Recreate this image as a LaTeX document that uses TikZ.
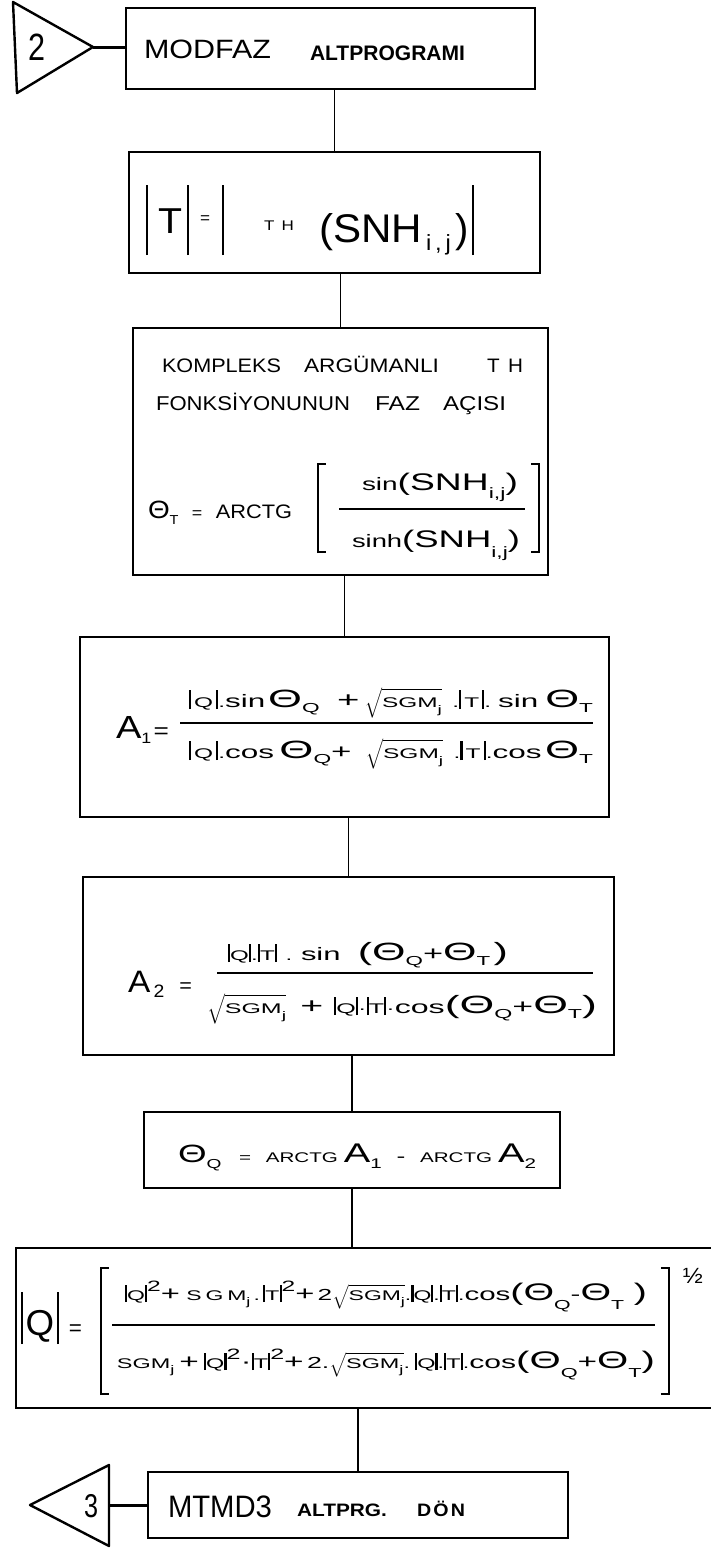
\documentclass[tikz,border=0pt]{standalone}
\usepackage{fontspec}
\setmainfont{Liberation Sans}
\usepackage{graphicx}
\makeatletter
\newcommand\lsp[2]{\def\lsp@k{#1}\let\lsp@sep\relax\@tfor\lsp@t:=#2\do{\lsp@sep\lsp@t\def\lsp@sep{\kern\lsp@k}}}
\makeatother
\newcommand\fs[1]{\fontsize{#1}{#1}\selectfont}
\newcommand\subx[3]{\raisebox{-#1}{\fs{#2}#3}}
\newcommand\at[3]{\rlap{\hspace*{#1}\raisebox{#2}{#3}}}
\newcommand\wfit[2]{\resizebox{#1}{\height}{#2}}
\newcommand\vb[1]{\rule[-2pt]{1.3pt}{#1}}
\newcommand\sm[1]{{\fs{14}#1}}
\newcommand\op[1]{{\fs{18}#1}}
\newcommand\rad[2]{{\fs{14}$\sqrt{\hbox{\fs{14}\rule[-6pt]{0pt}{19pt}#1\subx{5pt}{11}{#2}}}$}}
\newcommand\radb[2]{{\fs{16}$\sqrt{\hbox{\fs{14}\rule[-9pt]{0pt}{24pt}#1\subx{6pt}{11}{#2}}}$}}
\newcommand\Th[1]{{\fs{25}Θ}\subx{5pt}{13}{#1}}
\newcommand\Thd[1]{{\fs{24}Θ}\subx{9pt}{13}{#1}}
% square brackets from rules: #1 arm length, #2 height
\newcommand\lbr[2]{\rlap{\rule{1.7pt}{#2}}\rlap{\rule{#1}{1.7pt}}\rlap{\raisebox{\dimexpr#2-1.7pt\relax}{\rule{#1}{1.7pt}}}\hspace*{#1}}
\newcommand\rbr[2]{\rlap{\hspace*{\dimexpr#1-1.7pt\relax}\rule{1.7pt}{#2}}\rlap{\rule{#1}{1.7pt}}\rlap{\raisebox{\dimexpr#2-1.7pt\relax}{\rule{#1}{1.7pt}}}\hspace*{#1}}
\tikzset{
  box/.style={draw, line width=2.6pt, inner sep=0pt},
  conn/.style={line width=1.8pt},
  thickconn/.style={line width=3pt},
  tri/.style={draw, line width=2.4pt, line join=round},
  txt/.style={anchor=base west, inner sep=0pt, outer sep=0pt}
}
\begin{document}
\begin{tikzpicture}[x=1pt,y=-1pt]
\fill[white] (0,0) rectangle (711,1551);
\useasboundingbox (0,0) rectangle (711,1551);

% boxes
\node[box, minimum width=409pt, minimum height=81pt] (b1) at (330.5,48.5) {};
\node[box, minimum width=411pt, minimum height=121pt] (b2) at (334.5,212.5) {};
\node[box, minimum width=415pt, minimum height=247pt] (b3) at (340.5,451.5) {};
\node[box, minimum width=529pt, minimum height=180pt] (b4) at (344.5,727) {};
\node[box, minimum width=531pt, minimum height=178pt] (b5) at (348.5,966) {};
\node[box, minimum width=416pt, minimum height=76pt] (b6) at (352,1150) {};
\node[box, minimum width=704pt, minimum height=160pt] (b7) at (368,1328) {};
\node[box, minimum width=420pt, minimum height=66pt] (b8) at (358,1505) {};

% off-page connectors
\draw[tri] (13,2) -- (93,47) -- (17,93) -- cycle;
\coordinate (t2a) at (93,47);
\node[txt] (n2) at (28,60) {\wfit{17pt}{\fs{38}2}};
\draw[tri] (109,1465) -- (30,1505) -- (109,1546) -- cycle;
\coordinate (t3b) at (109,1505);
\node[txt] (n3) at (84,1517) {\wfit{14pt}{\fs{33}3}};

% connectors
\draw[thickconn] (t2a) -- (t2a -| b1.west);
\draw[conn] (b2.north |- b1.south) -- (b2.north);
\draw[conn] (b3.north |- b2.south) -- (b3.north);
\draw[conn] (b4.north |- b3.south) -- (b4.north);
\draw[conn] (b5.north |- b4.south) -- (b5.north);
\draw[conn] (b6.north |- b5.south) -- (b6.north);
\draw[conn] (b6.south) -- (b6.south |- b7.north);
\draw[conn] (b8.north |- b7.south) -- (b8.north);
\draw[thickconn] (t3b) -- (b8.west);

% box 1
\node[txt] (t1a) at (144,58) {\wfit{127pt}{\fs{26.5}MODFAZ}};
\node[txt] (t1b) at (310,60) {\wfit{155pt}{\fs{21}\bfseries ALTPROGRAMI}};

% box 2
\node[txt] (t2) at (146,242) {%
  \at{0pt}{-13pt}{\rule{1.8pt}{70pt}}%
  \at{12pt}{9pt}{\wfit{24pt}{\fs{36}T}}%
  \at{41pt}{-13pt}{\rule{1.8pt}{70pt}}%
  \at{54pt}{19pt}{\wfit{10pt}{\fs{16}=}}%
  \at{76pt}{-13pt}{\rule{1.8pt}{70pt}}%
  \at{118pt}{12pt}{\wfit{30pt}{\fs{14}T\hspace{6pt}H}}%
  \at{173pt}{0pt}{\wfit{103pt}{\fs{40}(SNH}}%
  \at{280pt}{-8pt}{\wfit{25pt}{\fs{22}i\,,\,j}}%
  \at{309pt}{0pt}{{\fs{40})}}%
  \at{326pt}{-13pt}{\rule{1.8pt}{70pt}}%
  \hspace*{328pt}};

% box 3
\node[txt] (t3a) at (162,372) {\fs{19.5}%
  \at{0pt}{0pt}{\wfit{119pt}{KOMPLEKS}}%
  \at{142pt}{0pt}{\wfit{135pt}{ARGÜMANLI}}%
  \at{325pt}{0pt}{\wfit{36pt}{T\hspace{8pt}H}}%
  \hspace*{361pt}};
\node[txt] (t3b) at (156,410) {\fs{20}%
  \at{0pt}{0pt}{\wfit{194pt}{FONKSİYONUNUN}}%
  \at{219pt}{0pt}{\wfit{45pt}{FAZ}}%
  \at{287pt}{0pt}{\wfit{63pt}{AÇISI}}%
  \hspace*{350pt}};
\node[txt] (t3c) at (148,509) {%
  \at{0pt}{-9pt}{\wfit{144pt}{{\fs{25}Θ}\subx{6pt}{13}{T}\hspace{12pt}{\fs{16}=}\hspace{12pt}{\fs{19.5}ARCTG}}}%
  \at{169pt}{-44pt}{\lbr{9pt}{90pt}}%
  \at{383pt}{-44pt}{\rbr{9pt}{90pt}}%
  \at{191pt}{-1pt}{\rule{186pt}{1.8pt}}%
  \at{214pt}{19pt}{\wfit{156pt}{\op{sin}{\fs{24}(SNH}\subx{8pt}{15}{i,j}{\fs{24})}}}%
  \at{204pt}{-38pt}{\wfit{168pt}{\op{sinh}{\fs{24}(SNH}\subx{10pt}{15}{i,j}{\fs{24})}}}%
  \hspace*{393pt}};

% box 4
\node[txt] (t4) at (116,723) {%
  \at{0pt}{-15pt}{\wfit{53pt}{{\fs{32}A}\subx{5pt}{15}{1}\hspace{2pt}{\fs{22}=}}}%
  \at{73pt}{16pt}{\wfit{404pt}{\vb{19pt}\,\sm{Q}\,\vb{19pt}\sm{.}\op{sin}\,\Th{Q}\hspace{10pt}{\fs{22}+}\hspace{3pt}\radb{SGM}{j}\hspace{6pt}\sm{.}\vb{19pt}\,\sm{T}\,\vb{19pt}\sm{.}\hspace{4pt}\op{sin}\hspace{4pt}\Th{T}}}%
  \at{64pt}{-1pt}{\rule{413pt}{2pt}}%
  \at{73pt}{-35pt}{\wfit{404pt}{\vb{19pt}\,\sm{Q}\,\vb{19pt}\sm{.}\op{cos}\hspace{3pt}\Th{Q}{\fs{20}+}\hspace{8pt}\radb{SGM}{j}\hspace{6pt}\sm{.}\vb{19pt}\,\sm{T}\,\vb{19pt}\sm{.}\op{cos}\hspace{2pt}\Th{T}}}%
  \hspace*{481pt}};

% box 5
\node[txt] (t5) at (128,973) {%
  \at{0pt}{-19pt}{\wfit{64pt}{{\fs{31}A}\hspace{3pt}\subx{5pt}{18}{2}\hspace{14pt}{\fs{20}=}}}%
  \at{100pt}{13pt}{\wfit{280pt}{\vb{18pt}\sm{Q}\vb{18pt}\sm{.}\vb{18pt}\sm{T}\vb{18pt}\hspace{5pt}\sm{.}\hspace{5pt}\op{sin}\hspace{10pt}{\fs{25}(}\Th{Q}{\fs{20}+}\Th{T}\hspace{2pt}{\fs{25})}}}%
  \at{89pt}{-1pt}{\rule{376pt}{2pt}}%
  \at{79pt}{-40pt}{\wfit{390pt}{\radb{SGM}{j}\hspace{8pt}{\fs{22}+}\hspace{6pt}\vb{18pt}\sm{Q}\vb{18pt}\sm{·}\vb{18pt}\sm{T}\vb{18pt}\sm{·}\op{cos}{\fs{25}(}\Th{Q}{\fs{20}+}\Th{T}{\fs{25})}}}%
  \hspace*{469pt}};

% box 6
\node[txt] (t6) at (178,1162) {\wfit{358pt}{{\fs{25}Θ}\subx{6pt}{13}{Q}\hspace{12pt}{\fs{14}=}\hspace{10pt}\sm{ARCTG}\hspace{4pt}{\fs{27}A}\subx{6pt}{14}{1}\hspace{10pt}{\fs{18}-}\hspace{10pt}\sm{ARCTG}\hspace{4pt}{\fs{27}A}\subx{6pt}{14}{2}}};

% box 7
\node[txt] (t7) at (21,1325) {%
  \at{0pt}{-10pt}{\wfit{61pt}{\rule[-9pt]{1.5pt}{52pt}\hspace{3pt}{\fs{36}Q}\hspace{3pt}\rule[-9pt]{1.5pt}{52pt}\hspace{10pt}{\fs{22}=}}}%
  \at{79pt}{-70pt}{\lbr{9pt}{128pt}}%
  \at{640pt}{-70pt}{\rbr{9pt}{128pt}}%
  \at{91pt}{-1pt}{\rule{543pt}{2pt}}%
  \at{104pt}{25pt}{\wfit{522pt}{\vb{17pt}\sm{Q}\vb{17pt}\raisebox{9pt}{\fs{15}2}{\fs{20}+}\hspace{4pt}\sm{S\,G\,M}\subx{5pt}{11}{j}\hspace{2pt}\sm{.}\hspace{2pt}\vb{17pt}\sm{T}\vb{17pt}\raisebox{9pt}{\fs{15}2}{\fs{20}+}\hspace{2pt}{\fs{16}2}\rad{SGM}{j}\sm{.}\vb{17pt}\sm{Q}\vb{17pt}\sm{.}\vb{17pt}\sm{T}\vb{17pt}\sm{.}\op{cos}{\fs{24}(}\Thd{Q}{\fs{18}-}\Thd{T}\hspace{6pt}{\fs{24})}}}%
  \at{96pt}{-43pt}{\wfit{538pt}{\sm{SGM}\subx{5pt}{11}{j}\hspace{3pt}{\fs{20}+}\hspace{3pt}\vb{17pt}\sm{Q}\vb{17pt}\raisebox{9pt}{\fs{15}2}{\fs{20}·}\vb{17pt}\sm{T}\vb{17pt}\raisebox{9pt}{\fs{15}2}{\fs{20}+}\hspace{2pt}{\fs{16}2.}\rad{SGM}{j}\sm{.}\hspace{3pt}\vb{17pt}\sm{Q}\vb{17pt}\sm{.}\vb{17pt}\sm{T}\vb{17pt}\sm{.}\op{cos}{\fs{24}(}\Thd{Q}{\fs{20}+}\Thd{T}{\fs{24})}}}%
  \at{662pt}{42pt}{\wfit{20pt}{\fs{22}½}}%
  \hspace*{684pt}};

% box 8
\node[txt] (t8a) at (168,1517) {\wfit{104pt}{\fs{31}MTMD3}};
\node[txt] (t8b) at (297,1516) {\wfit{90pt}{\fs{18}\bfseries ALTPRG.}};
\node[txt] (t8c) at (417,1516) {\wfit{48pt}{\fs{18}\bfseries\lsp{2pt}{DÖN}}};
\end{tikzpicture}
\end{document}
